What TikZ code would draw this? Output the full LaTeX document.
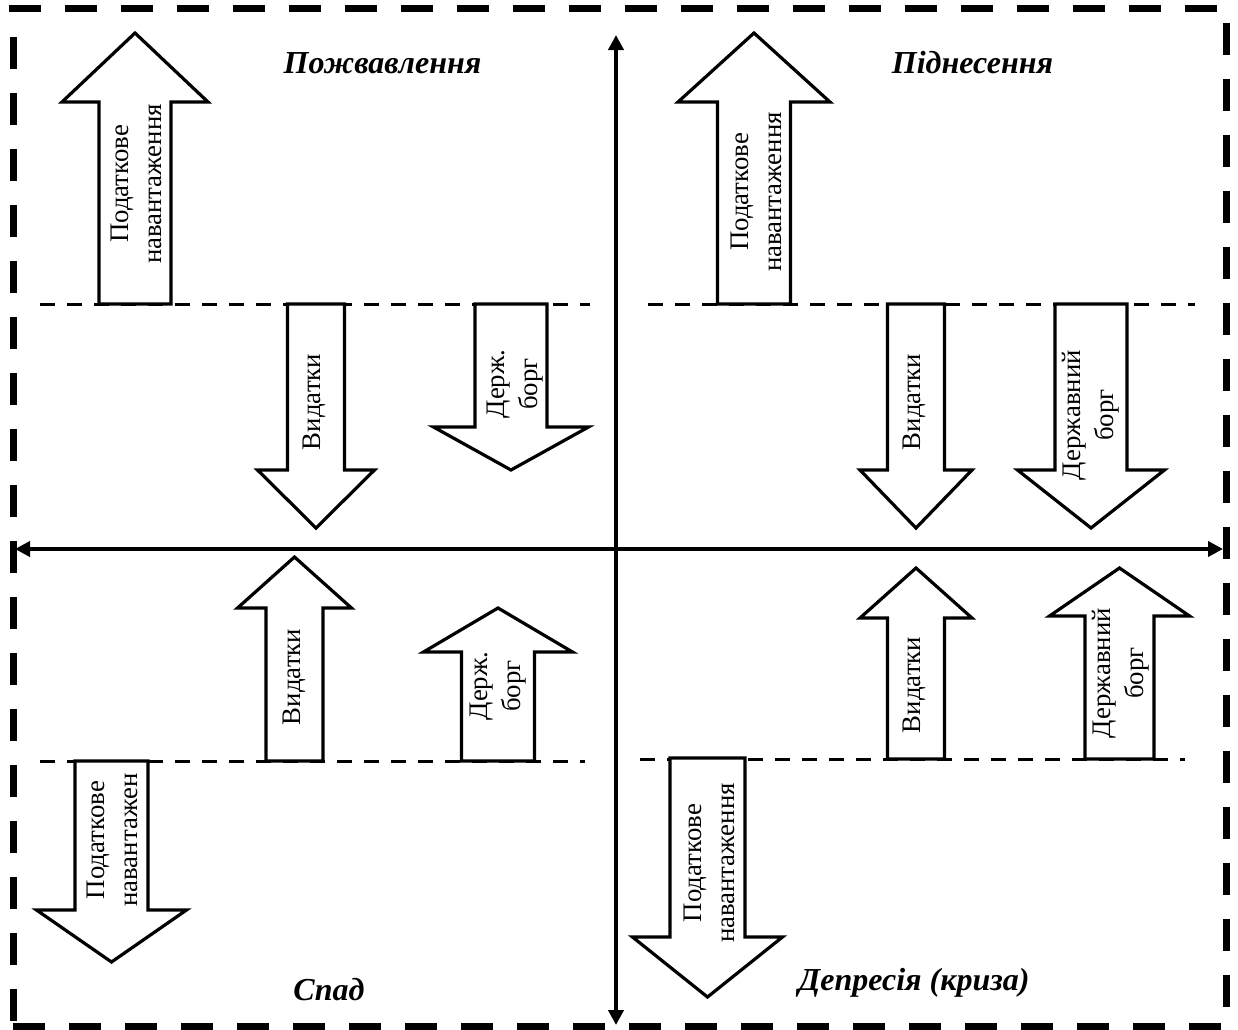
\documentclass[tikz,border=0pt]{standalone}
\usepackage{fontspec}
\setmainfont{Liberation Serif}
\usetikzlibrary{arrows.meta}

% block arrow: centre x, shaft half width, head half width, shaft base y, head base y, tip y
\newcommand\blockarr[6]{%
  \draw[blockline] ({#1-#2},#4) -- ({#1-#2},#5) -- ({#1-#3},#5) -- (#1,#6)
    -- ({#1+#3},#5) -- ({#1+#2},#5) -- ({#1+#2},#4) -- cycle;}

\tikzset{
  frameline/.style={line width=3.5pt, dash pattern=on 16pt off 12pt},
  guideline/.style={line width=1.5pt, dash pattern=on 7.5pt off 6pt},
  axisline/.style={line width=2.25pt, {Triangle[length=7.5pt,width=7.5pt]}-{Triangle[length=7.5pt,width=7.5pt]}},
  blockline/.style={line width=1.6pt, line join=miter, fill=white},
  phase/.style={font=\fontsize{16}{19}\selectfont\bfseries\itshape, inner sep=0pt, anchor=base},
  lbl/.style={font=\fontsize{13.4}{16.5}\selectfont, align=center, rotate=90, inner sep=0pt},
}

\begin{document}
\begin{tikzpicture}[x=0.5pt, y=-0.5pt]
  \useasboundingbox (0,0) rectangle (1238,1029);

  % dashed frame
  \draw[frameline] (9,8) -- (1232,8);
  \draw[frameline] (13,37) -- (13,1032);
  \draw[frameline, dash phase=18.5pt] (1226,4) -- (1226,1032);
  \draw[frameline] (13,1026) -- (1232,1026);

  % level lines
  \draw[guideline] (40,304) -- (590,304);
  \draw[guideline] (648,304) -- (1195,304);
  \draw[guideline] (40,761) -- (585,761);
  \draw[guideline] (640,759) -- (1185,759);

  % axes
  \coordinate (ytop) at (616,35);
  \coordinate (ybot) at (616,1025);
  \coordinate (xleft) at (15,549);
  \coordinate (xright) at (1223,549);
  \draw[axisline] (ybot) -- (ytop);
  \draw[axisline] (xleft) -- (xright);

  % block arrows
  \blockarr{135}{36}{73}{304}{102}{33}
  \blockarr{316}{28.5}{58.5}{304}{470}{528}
  \blockarr{511}{36}{77.5}{304}{427}{470}
  \blockarr{754}{36.5}{76}{304}{102}{33}
  \blockarr{916}{28.5}{56}{304}{470}{528}
  \blockarr{1091}{36}{73.5}{304}{470}{528}
  \blockarr{294.5}{28.5}{57}{761}{608}{557}
  \blockarr{498}{36.5}{74.5}{761}{652}{608}
  \blockarr{111.5}{36.5}{75}{761}{910}{962}
  \blockarr{916}{28.5}{56}{759}{618}{568}
  \blockarr{1119.5}{34.5}{70}{759}{616}{568}
  \blockarr{707.5}{37.5}{75}{758}{937}{997}

  % arrow labels
  \node[lbl] (tl-tax) at (136,184) {Податкове\\навантаження};
  \node[lbl] (tl-exp) at (314,402) {Видатки};
  \node[lbl] (tl-debt) at (515,384) {Держ.\\борг};
  \node[lbl] (tr-tax) at (756,192) {Податкове\\навантаження};
  \node[lbl] (tr-exp) at (914,402) {Видатки};
  \node[lbl] (tr-debt) at (1091,415) {Державний\\борг};
  \node[lbl] (bl-exp) at (294,677) {Видатки};
  \node[lbl] (bl-debt) at (498,686) {Держ.\\борг};
  \node[lbl] (bl-tax) at (112,840) {Податкове\\навантажен};
  \node[lbl] (br-exp) at (914,685) {Видатки};
  \node[lbl] (br-debt) at (1121,673) {Державний\\борг};
  \node[lbl] (br-tax) at (709,863) {Податкове\\навантаження};

  % phase titles
  \node[phase] (revival) at (382.5,73) {Пожвавлення};
  \node[phase] (boom) at (972.5,73) {Піднесення};
  \node[phase] (decline) at (329,1000) {Спад};
  \node[phase] (crisis) at (914,990) {Депресія (криза)};
\end{tikzpicture}
\end{document}
